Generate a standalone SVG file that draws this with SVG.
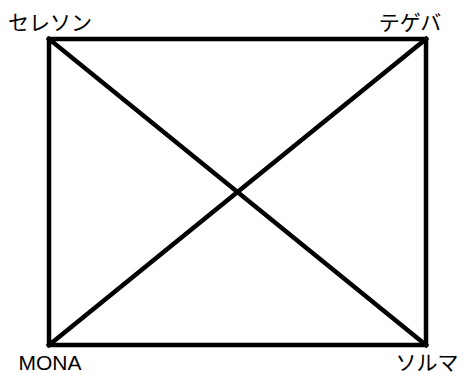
<svg xmlns="http://www.w3.org/2000/svg" width="462" height="374" viewBox="0 0 462 374">
<style>
.l{stroke:#000;stroke-width:4.5;fill:none;stroke-linecap:square}
.t{font-family:"Liberation Sans","Noto Sans CJK JP",sans-serif;font-size:21px;fill:#000;text-anchor:middle}
</style>
<rect width="462" height="374" fill="#fff"/>
<g id="connectors">
<path class="l" d="M49,39 H426 V345 H49 Z"/>
<line class="l" x1="49" y1="39" x2="426" y2="345"/>
<line class="l" x1="426" y1="39" x2="49" y2="345"/>
</g>
<g id="n1"><text class="t" x="50" y="30">セレソン</text></g>
<g id="n2"><text class="t" x="410" y="30">テゲバ</text></g>
<g id="n3"><text class="t" x="50" y="370">MONA</text></g>
<g id="n4"><text class="t" x="427" y="370">ソルマ</text></g>
</svg>
